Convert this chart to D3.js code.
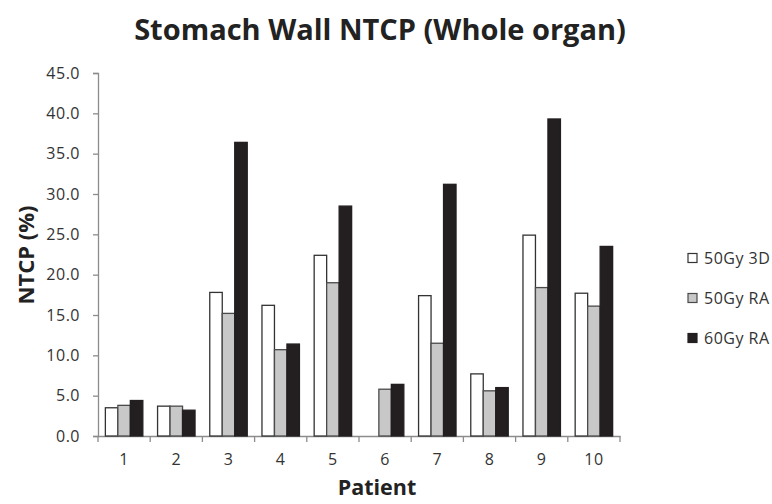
<!DOCTYPE html>
<html>
<head>
<meta charset="utf-8">
<script src="https://cdn.jsdelivr.net/npm/d3@7"></script>
<style>
body { margin: 0; background: white; }
text { font-family: "Open Sans", "Noto Sans", sans-serif; }
</style>
</head>
<body>
<script>
// data
var patients = ["1","2","3","4","5","6","7","8","9","10"];
var seriesNames = ["50Gy 3D", "50Gy RA", "60Gy RA"];
var gy50_3d = [3.5, 3.7, 17.8, 16.2, 22.4, 0, 17.4, 7.7, 24.9, 17.7];
var gy50_ra = [3.8, 3.7, 15.2, 10.7, 19.0, 5.8, 11.5, 5.6, 18.4, 16.1];
var gy60_ra = [4.4, 3.2, 36.4, 11.4, 28.5, 6.4, 31.2, 6.0, 39.3, 23.5];
var yTicks = [0, 5, 10, 15, 20, 25, 30, 35, 40, 45];

var fills = ["#ffffff", "#c8c8c8", "#231f20"];
var strokes = ["#333333", "#4a4a4a", "#231f20"];

var svg = d3.select("body").append("svg")
	.attr("width", 772).attr("height", 504);

var x0 = d3.scaleBand().domain(patients).range([98, 620]).paddingInner(0).paddingOuter(0);
var x1 = d3.scaleBand().domain(seriesNames).range([0, x0.bandwidth()]).paddingInner(0).paddingOuter(0.59);
var y = d3.scaleLinear().domain([0, 45]).range([436, 73]);

var rows = patients.map(function(p, i){
	return {p: p, vals: [gy50_3d[i], gy50_ra[i], gy60_ra[i]]};
});

/* axes */
var yAxis = svg.append("g").attr("transform", "translate(98,0)")
	.call(d3.axisLeft(y).tickValues(yTicks).tickFormat(d3.format(".1f")).tickSize(5).tickPadding(13));
yAxis.select(".domain").attr("stroke", "#8c8c8c").attr("stroke-width", 1.3);
yAxis.selectAll(".tick line").attr("stroke", "#8c8c8c").attr("stroke-width", 1.3);
yAxis.selectAll(".tick text").attr("fill", "#333").style("font-size", "16px").style("letter-spacing", "0.5px");

var xAxis = svg.append("g").attr("transform", "translate(0,436)")
	.call(d3.axisBottom(x0).tickSize(0).tickPadding(18));
xAxis.select(".domain").attr("stroke", "#8c8c8c").attr("stroke-width", 1.3);
xAxis.selectAll(".tick text").attr("fill", "#333").style("font-size", "16px").style("letter-spacing", "0.5px");
// tick marks between categories
xAxis.selectAll("line.sep").data(patients.concat(["end"])).enter().append("line")
	.attr("class", "sep")
	.attr("x1", function(d, i){ return i < patients.length ? x0(d) : x0.range()[1]; })
	.attr("x2", function(d, i){ return i < patients.length ? x0(d) : x0.range()[1]; })
	.attr("y1", 0).attr("y2", 6)
	.attr("stroke", "#8c8c8c").attr("stroke-width", 1.3);

/* bars */
var groups = svg.selectAll("g.grp").data(rows).enter().append("g")
	.attr("class", "grp")
	.attr("transform", function(d){ return "translate(" + x0(d.p) + ",0)"; });

groups.selectAll("rect").data(function(d){
		return d.vals.map(function(v, k){ return {k: k, v: v}; }).filter(function(e){ return e.v > 0; });
	}).enter().append("rect")
	.attr("x", function(d){ return x1(seriesNames[d.k]); })
	.attr("y", function(d){ return y(d.v); })
	.attr("width", x1.bandwidth())
	.attr("height", function(d){ return y(0) - y(d.v); })
	.attr("fill", function(d){ return fills[d.k]; })
	.attr("stroke", function(d){ return strokes[d.k]; })
	.attr("stroke-width", 1.3);

/* title and axis labels */
svg.append("text").attr("x", 380).attr("y", 40).attr("text-anchor", "middle")
	.style("font-size", "29px").style("font-weight", "bold").attr("fill", "#222")
	.text("Stomach Wall NTCP (Whole organ)");

svg.append("text").attr("x", 377).attr("y", 495).attr("text-anchor", "middle")
	.style("font-size", "21.5px").style("font-weight", "bold").attr("fill", "#222")
	.text("Patient");

svg.append("text").attr("transform", "translate(34,255) rotate(-90)").attr("text-anchor", "middle")
	.style("font-size", "22px").style("font-weight", "bold").attr("fill", "#222")
	.text("NTCP (%)");

/* legend */
var legend = svg.selectAll("g.leg").data(seriesNames).enter().append("g")
	.attr("class", "leg")
	.attr("transform", function(d, i){ return "translate(688," + (258 + i * 40) + ")"; });
legend.append("rect").attr("x", 0).attr("y", -4.5).attr("width", 9).attr("height", 9)
	.attr("fill", function(d, i){ return fills[i]; })
	.attr("stroke", function(d, i){ return strokes[i]; })
	.attr("stroke-width", 1.2);
legend.append("text").attr("x", 16).attr("y", 0).attr("dy", "0.35em")
	.style("font-size", "16px").style("letter-spacing", "0.5px").attr("fill", "#333")
	.text(function(d){ return d; });
</script>
</body>
</html>
